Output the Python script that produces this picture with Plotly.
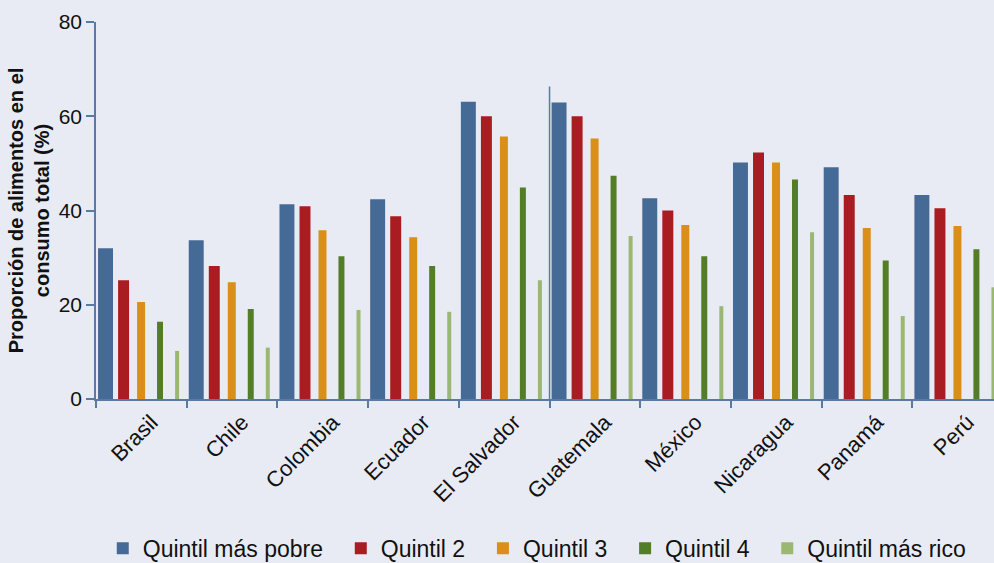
import plotly.graph_objects as go

paises = ["Brasil", "Chile", "Colombia", "Ecuador", "El Salvador",
          "Guatemala", "México", "Nicaragua", "Panamá", "Perú"]

quintil_pobre = [32.0, 33.7, 41.3, 42.4, 63.1, 62.9, 42.6, 50.2, 49.2, 43.3]
quintil_2 = [25.2, 28.2, 40.9, 38.8, 60.0, 60.0, 40.0, 52.3, 43.3, 40.5]
quintil_3 = [20.6, 24.8, 35.8, 34.3, 55.7, 55.3, 36.9, 50.2, 36.3, 36.7]
quintil_4 = [16.4, 19.1, 30.3, 28.2, 44.9, 47.4, 30.3, 46.6, 29.4, 31.8]
quintil_rico = [10.2, 10.9, 18.9, 18.5, 25.2, 34.6, 19.7, 35.4, 17.6, 23.7]

series = [
    ("Quintil más pobre", quintil_pobre, "#466a96", -0.395, 0.165),
    ("Quintil 2", quintil_2, "#a81c22", -0.196, 0.121),
    ("Quintil 3", quintil_3, "#d98f18", -0.003, 0.088),
    ("Quintil 4", quintil_4, "#537d27", 0.206, 0.066),
    ("Quintil más rico", quintil_rico, "#9ab872", 0.394, 0.044),
]

eje = "#5a7aa3"
fondo = "#e8ebf3"
relleno = "\u00a0" * 2  # espacio extra entre entradas de la leyenda

fig = go.Figure()
for i, (nombre, valores, color, centro, ancho) in enumerate(series):
    etiqueta = nombre + (relleno if i < len(series) - 1 else "")
    fig.add_trace(go.Bar(x=paises, y=valores, name=etiqueta,
                         marker=dict(color=color, line=dict(width=0)),
                         width=ancho, offset=centro - ancho / 2))

# linea vertical entre El Salvador y Guatemala
fig.add_shape(type="line", xref="x", yref="y", x0=4.5, x1=4.5, y0=0, y1=66.3,
              line=dict(color=eje, width=1.5))

fig.update_layout(
    width=994, height=563,
    barmode="overlay",
    paper_bgcolor=fondo, plot_bgcolor=fondo,
    margin=dict(l=96, r=0, t=22, b=164, autoexpand=False),
    font=dict(family="Liberation Sans, Arial", size=20, color="#111111"),
    showlegend=True,
    legend=dict(orientation="h", xref="container", yref="container",
                x=0.540, xanchor="center", y=0.026, yanchor="middle",
                font=dict(size=23), bgcolor="rgba(0,0,0,0)", itemwidth=30),
    xaxis=dict(range=[-0.5, 9.4], tickangle=-45, tickson="boundaries",
               ticks="outside", ticklen=7, tickcolor=eje, tickwidth=1.5,
               showline=True, linecolor=eje, linewidth=1.5, automargin=False,
               ticklabelshift=10,
               showgrid=False, zeroline=False, tickfont=dict(size=22)),
    yaxis=dict(range=[0, 80], tickvals=[0, 20, 40, 60, 80],
               ticks="outside", ticklen=8, tickcolor=eje, tickwidth=1.5,
               showline=True, linecolor=eje, linewidth=1.5, automargin=False,
               showgrid=False, zeroline=False, tickfont=dict(size=21),
               title=dict(text="<b>Proporción de alimentos en el<br>consumo total (%)</b>",
                          font=dict(size=20), standoff=4)),
)

fig.write_html("out.html", config={"displayModeBar": False},
               post_script="document.body.style.margin='0';")
